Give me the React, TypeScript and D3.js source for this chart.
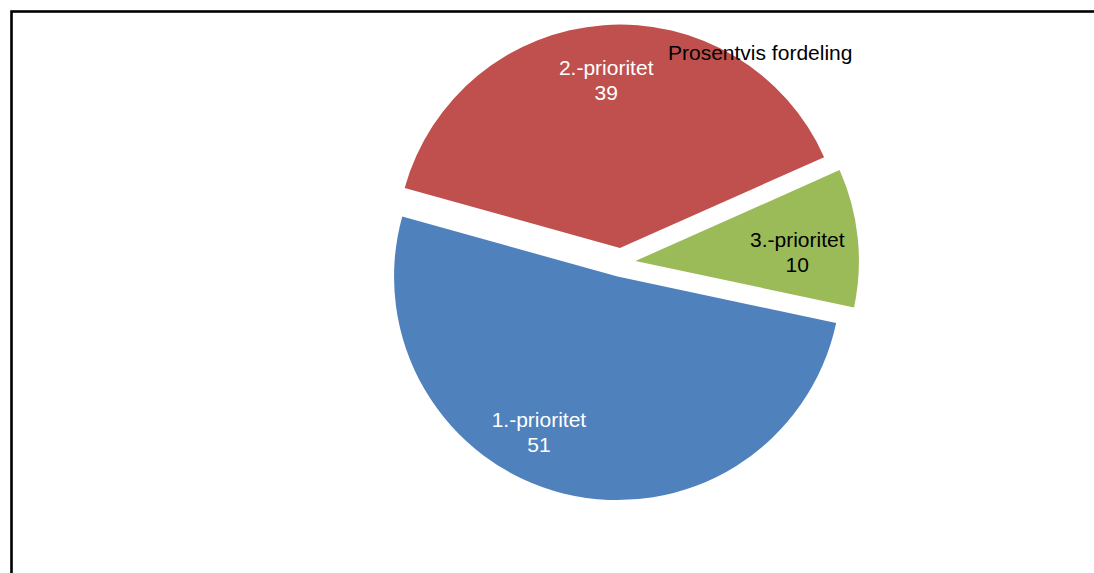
import React from "react";
import * as d3 from "d3";

const categories = ["1.-prioritet", "2.-prioritet", "3.-prioritet"];
const values = [51, 39, 10];
const colors = ["#4F81BD", "#C0504D", "#9BBB59"];
const labelColors = ["#FFFFFF", "#FFFFFF", "#000000"];
const title = "Prosentvis fordeling";

const W = 1094;
const H = 573;
const CX = 621;
const CY = 262.5;
const R = 223.5;
const EXPLODE = 14.5;
const START_DEG = 102;
// label placement: fraction of radius and angle offset from bisector (deg)
const labelRadiusFrac = [0.78, 0.75, 0.725];
const labelAngleOffset = [13, -0.5, 3];
const FONT = "'Liberation Sans', Arial, sans-serif";
const FS = 21;
const LH = 25;

export default function App() {
  const start = (START_DEG * Math.PI) / 180;
  const pie = d3
    .pie<number>()
    .sort(null)
    .startAngle(start)
    .endAngle(start + 2 * Math.PI)
    .value((d) => d);
  const arcs = pie(values);
  const arc = d3.arc<d3.PieArcDatum<number>>().innerRadius(0).outerRadius(R);

  return (
    <svg
      width={W}
      height={H}
      style={{ position: "absolute", left: 0, top: 0, display: "block" }}
    >
      <rect x={0} y={0} width={W} height={H} fill="#ffffff" />
      <rect
        x={11.5}
        y={11.5}
        width={W + 20}
        height={H + 20}
        fill="none"
        stroke="#000"
        strokeWidth={2.6}
      />
      {arcs.map((a, i) => {
        const mid = (a.startAngle + a.endAngle) / 2;
        const vx = CX + EXPLODE * Math.sin(mid);
        const vy = CY - EXPLODE * Math.cos(mid);
        const la = mid + (labelAngleOffset[i] * Math.PI) / 180;
        const lr = R * labelRadiusFrac[i];
        const lx = vx + lr * Math.sin(la);
        const ly = vy - lr * Math.cos(la);
        return (
          <g key={categories[i]}>
            <path
              d={arc(a) || ""}
              transform={`translate(${vx},${vy})`}
              fill={colors[i]}
            />
            <text
              x={lx}
              y={ly}
              textAnchor="middle"
              fontFamily={FONT}
              fontSize={FS}
              fill={labelColors[i]}
            >
              <tspan x={lx} dy={-LH / 2 + 7}>
                {categories[i]}
              </tspan>
              <tspan x={lx} dy={LH}>
                {values[i]}
              </tspan>
            </text>
          </g>
        );
      })}
      <text x={668} y={60} fontFamily={FONT} fontSize={FS} fill="#000">
        {title}
      </text>
    </svg>
  );
}
